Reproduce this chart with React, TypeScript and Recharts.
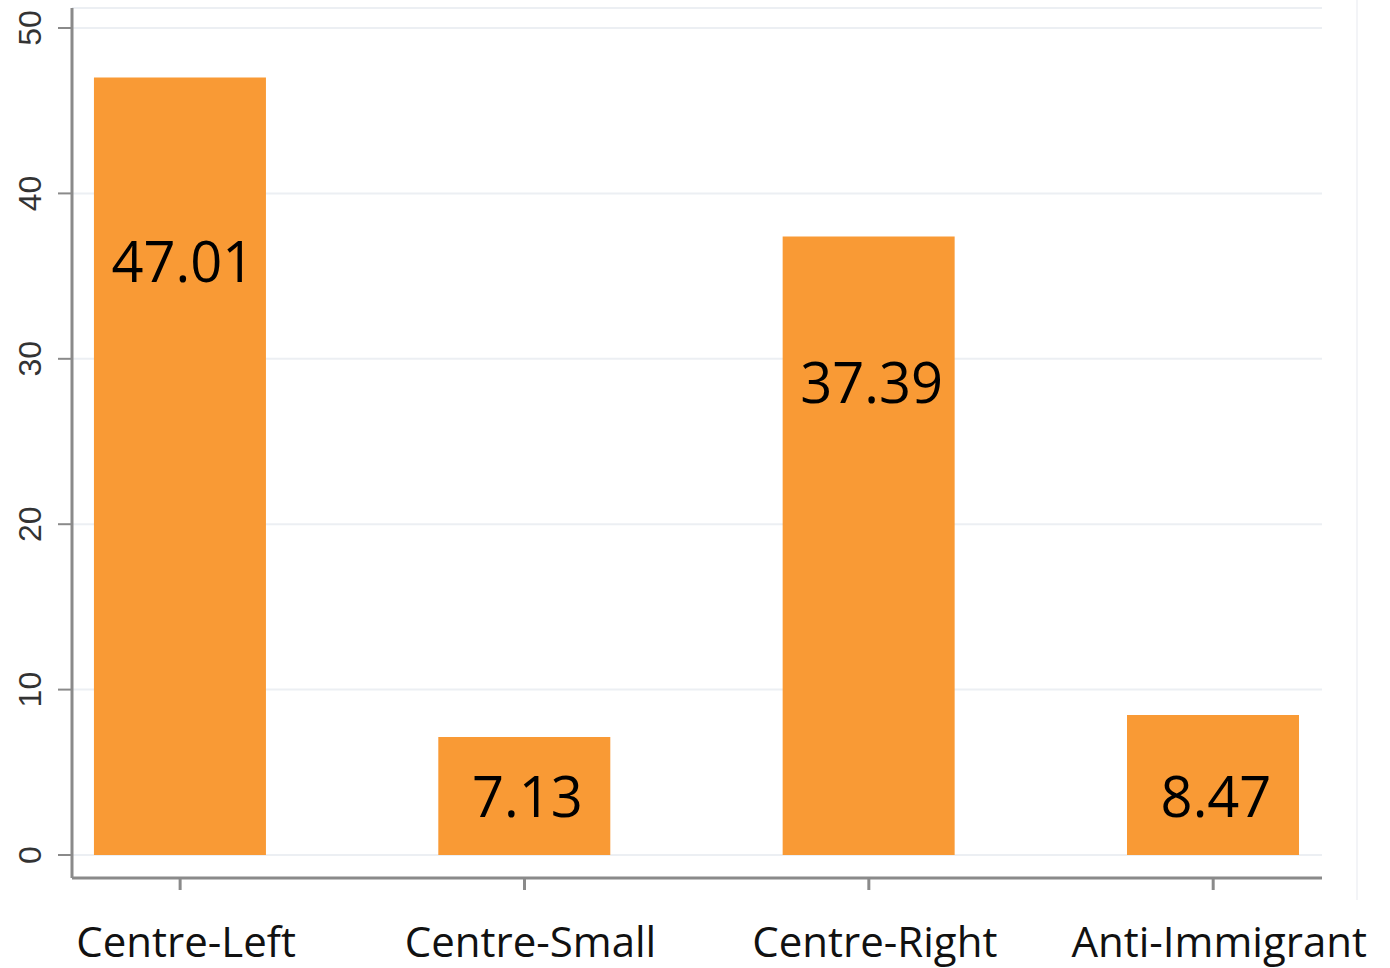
import React from "react";
import { BarChart, Bar, XAxis, YAxis, CartesianGrid, LabelList } from "recharts";

const categories = ["Centre-Left", "Centre-Small", "Centre-Right", "Anti-Immigrant"];
const shares = [47.01, 7.13, 37.39, 8.47];
const yTicks = [0, 10, 20, 30, 40, 50];

const data = categories.map((name, i) => ({ pos: i + 1, name, value: shares[i] }));

const ORANGE = "#F99A35";
const AXIS = "#8a8a8a";

function YTick(props: any) {
  const { x, y, payload } = props;
  const cx = x - 26;
  return (
    <text
      x={cx}
      y={y}
      transform={`rotate(-90, ${cx}, ${y})`}
      textAnchor="middle"
      dominantBaseline="central"
      fontFamily="'Liberation Sans', Arial, sans-serif"
      fontSize={32}
      fill="#333"
    >
      {payload.value}
    </text>
  );
}

function XTick(props: any) {
  const { x, y, payload } = props;
  return (
    <text
      x={x + 6}
      y={y}
      dy={67}
      textAnchor="middle"
      fontFamily="'Open Sans', sans-serif"
      fontSize={42}
      fill="#111"
    >
      {categories[payload.value - 1]}
    </text>
  );
}

function ValueLabel(props: any) {
  const { x, y, width, height, value } = props;
  // tall bars: label in the upper part; short bars: near the bottom
  const cy = height > 300 ? y + height * 0.24 - 4 : y + height - 60;
  return (
    <text
      x={x + width / 2 + 3}
      y={cy}
      textAnchor="middle"
      dominantBaseline="central"
      fontFamily="'Open Sans', sans-serif"
      fontSize={56}
      fill="#000"
    >
      {value.toFixed(2)}
    </text>
  );
}

export default function App() {
  return (
    <div style={{ position: "absolute", left: 0, top: 0, width: 1390, height: 968, background: "#fff" }}>
      <div
        style={{
          position: "absolute",
          left: 1356,
          top: 0,
          width: 0,
          height: 900,
          borderRight: "2px solid #f3f4f7",
        }}
      />
      <BarChart
        width={1390}
        height={968}
        data={data}
        margin={{ top: 8, right: 68, bottom: 0, left: 0 }}
      >
        <CartesianGrid vertical={false} stroke="#eceff3" strokeWidth={2} />
        <XAxis
          dataKey="pos"
          type="number"
          domain={[0.686, 4.316]}
          ticks={[1, 2, 3, 4]}
          height={90}
          tickSize={12}
          tickMargin={0}
          tick={<XTick />}
          axisLine={{ stroke: AXIS, strokeWidth: 3 }}
          tickLine={{ stroke: AXIS, strokeWidth: 3 }}
          allowDataOverflow
        />
        <YAxis
          type="number"
          domain={[-1.39, 51.21]}
          ticks={yTicks}
          width={72}
          tickSize={14}
          tickMargin={2}
          tick={<YTick />}
          axisLine={{ stroke: AXIS, strokeWidth: 3 }}
          tickLine={{ stroke: AXIS, strokeWidth: 2 }}
          allowDataOverflow
        />
        <Bar dataKey="value" fill={ORANGE} barSize={172} isAnimationActive={false}>
          <LabelList dataKey="value" content={<ValueLabel />} />
        </Bar>
      </BarChart>
    </div>
  );
}
